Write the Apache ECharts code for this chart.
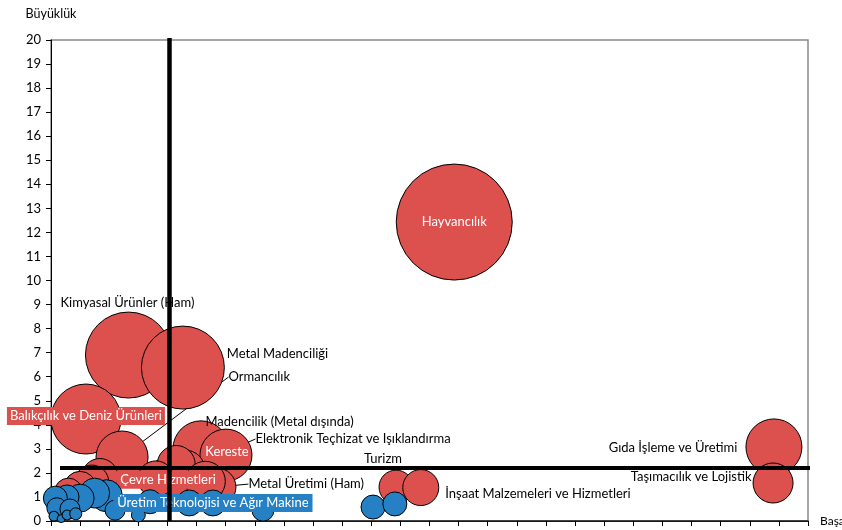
<!DOCTYPE html>
<html>
<head>
<meta charset="utf-8">
<script src="https://cdn.jsdelivr.net/npm/echarts@6/dist/echarts.min.js"></script>
<style>html,body{margin:0;padding:0;background:#fff;overflow:hidden}#c{width:842px;height:530px;overflow:hidden}</style>
</head>
<body>
<div id="c"></div>
<script>
// ---- data ----
const redNames = ['Hayvancılık','Kimyasal Ürünler (Ham)','Metal Madenciliği','Balıkçılık ve Deniz Ürünleri','Ormancılık','Madencilik (Metal dışında)','Kereste','Elektronik Teçhizat ve Işıklandırma','Çevre Hizmetleri','Metal Üretimi (Ham)','Turizm','İnşaat Malzemeleri ve Hizmetleri','Gıda İşleme ve Üretimi','Taşımacılık ve Lojistik','','','','','','',''];
const redX    = [13.85, 2.66, 4.53, 1.2, 2.44, 5.15, 6.01, 4.6, 4.02, 5.7, 11.85, 12.7, 24.83, 24.8, 4.3, 5.3, 1.68, 1.4, 1.0, 0.6, 3.6];
const redY    = [12.43, 6.9, 6.38, 4.24, 2.66, 3.0, 2.74, 2.12, 1.72, 1.41, 1.41, 1.39, 3.08, 1.58, 2.35, 1.65, 1.85, 1.62, 1.4, 1.2, 1.75];
const redSize = [841, 462, 430, 306, 169, 196, 169, 100, 121, 90, 72, 81, 196, 100, 90, 100, 81, 72, 64, 49, 81];

const blueNames = ['Üretim Teknolojisi ve Ağır Makine','','','','','','','','','','','','','','','','','',''];
const blueX    = [5.56, 1.9, 1.5, 1.0, 0.55, 0.15, 0.2, 0.65, 2.2, 3.0, 3.4, 4.75, 7.28, 11.06, 11.81, 0.1, 0.35, 0.55, 0.85];
const blueY    = [0.75, 1.05, 1.16, 0.95, 1.0, 0.95, 0.55, 0.5, 0.45, 0.25, 0.8, 0.75, 0.45, 0.58, 0.71, 0.2, 0.1, 0.25, 0.3];
const blueSize = [42, 64, 56, 49, 36, 36, 25, 25, 25, 12, 36, 42, 30, 36, 36, 6, 4, 6, 9];

const vLineX = 4.07;        // vertical reference line
const hLineY = 2.2;         // horizontal reference line
const hLineFrom = 0.31, hLineTo = 26.34;
const vLineTop = 20.08;

const xTitle = 'Başarı';
const yTitle = 'Büyüklük';

// ---- styles ----
const RED = '#DC504E', BLUE = '#2581C4';
const FONT = 'Lato';
const labelCfg = {
  'Hayvancılık': {position:'inside', color:'#fff'},
  'Kimyasal Ürünler (Ham)': {position:'inside'},
  'Metal Madenciliği': {position:'right', distance:2},
  'Balıkçılık ve Deniz Ürünleri': {position:'inside', color:'#fff', backgroundColor:RED, padding:[3,3,2,3]},
  'Ormancılık': {position:'right', distance:0},
  'Madencilik (Metal dışında)': {position:'right', distance:0},
  'Kereste': {position:'inside', color:'#fff'},
  'Elektronik Teçhizat ve Işıklandırma': {position:'right', distance:0},
  'Çevre Hizmetleri': {position:'inside', color:'#fff', backgroundColor:RED, padding:[3,4,2,4]},
  'Metal Üretimi (Ham)': {position:'right', distance:0},
  'Turizm': {position:'inside'},
  'İnşaat Malzemeleri ve Hizmetleri': {position:'right', distance:6},
  'Gıda İşleme ve Üretimi': {position:'left', distance:8},
  'Taşımacılık ve Lojistik': {position:'left', distance:1},
  'Üretim Teknolojisi ve Ağır Makine': {position:'inside', color:'#fff', backgroundColor:BLUE, padding:[3,4,2,4]}
};
// label shifts (px) from their default position
const labelShift = {
  'Kimyasal Ürünler (Ham)': [-1,-52],
  'Metal Madenciliği': [0,-14],
  'Balıkçılık ve Deniz Ürünleri': [0,-3],
  'Ormancılık': [80,-80],
  'Madencilik (Metal dışında)': [-24,-27],
  'Kereste': [1,-3],
  'Elektronik Teçhizat ve Işıklandırma': [50,-31],
  'Metal Üretimi (Ham)': [12,-3],
  'Turizm': [-13,-28],
  'İnşaat Malzemeleri ve Hizmetleri': [0,6],
  'Gıda İşleme ve Üretimi': [0,1],
  'Taşımacılık ve Lojistik': [0,-6]
};
const withLeader = ['Ormancılık','Elektronik Teçhizat ve Işıklandırma','Metal Üretimi (Ham)'];

function buildData(names, xs, ys, sizes){
  return names.map((n,i)=>{
    const item = {name:n, value:[xs[i], ys[i], sizes[i]]};
    if(n && labelCfg[n]){
      item.label = Object.assign({show:true, formatter:n, color:'#000', fontFamily:FONT, fontSize:13}, labelCfg[n]);
      if(withLeader.indexOf(n) >= 0) item.labelLine = {show:true, lineStyle:{color:'#000', width:1}};
    } else {
      item.label = {show:false};
    }
    return item;
  });
}
function layoutFor(names){
  return function(p){
    const m = labelShift[names[p.dataIndex]] || [0,0];
    return {dx:m[0], dy:m[1]};
  };
}
const sizeFn = v => Math.sqrt(v[2]) * 4;

const chart = echarts.init(document.getElementById('c'), null, {renderer:'canvas'});
chart.setOption({
  animation:false,
  backgroundColor:'#fff',
  textStyle:{fontFamily:FONT},
  grid:{left:51, right:34, top:40, bottom:9, show:true, borderColor:'#8a8a8a', borderWidth:1.5, containLabel:false, outerBoundsMode:'none'},
  xAxis:[{
    type:'value', min:0, max:26, interval:1,
    axisLine:{show:true, onZero:false, lineStyle:{color:'#000', width:1}},
    axisTick:{show:true, inside:false, length:5, lineStyle:{color:'#000'}},
    axisLabel:{show:false}, splitLine:{show:false},
    name:xTitle, nameLocation:'end', nameGap:12,
    nameTextStyle:{color:'#000', fontSize:12, fontFamily:FONT, align:'left', verticalAlign:'middle', padding:[4,0,0,0]}
  },{
    type:'value', min:0, max:26, position:'top',
    axisLine:{show:true, lineStyle:{color:'#222', width:1.5}},
    axisTick:{show:false}, axisLabel:{show:false}, splitLine:{show:false}
  }],
  yAxis:{
    type:'value', min:0, max:20, interval:1,
    axisLine:{show:true, onZero:false, lineStyle:{color:'#000', width:1}},
    axisTick:{show:true, inside:false, length:5, lineStyle:{color:'#000'}},
    axisLabel:{color:'#000', fontSize:13, fontFamily:FONT, margin:10},
    splitLine:{show:false},
    name:yTitle, nameLocation:'end', nameGap:20,
    nameTextStyle:{color:'#000', fontSize:12.5, fontFamily:FONT}
  },
  series:[
    {
      type:'scatter', name:'red', z:2,
      data:buildData(redNames, redX, redY, redSize),
      symbolSize:sizeFn,
      itemStyle:{color:RED, borderColor:'#000', borderWidth:1, opacity:1},
      labelLayout:layoutFor(redNames),
      emphasis:{disabled:true}
    },
    {
      type:'scatter', name:'blue', z:3,
      data:buildData(blueNames, blueX, blueY, blueSize),
      symbolSize:sizeFn,
      itemStyle:{color:BLUE, borderColor:'#000', borderWidth:1, opacity:1},
      labelLayout:layoutFor(blueNames),
      emphasis:{disabled:true}
    },
    {
      type:'line', z:10, clip:false, symbol:'none', silent:true,
      data:[[vLineX,0],[vLineX,vLineTop]],
      lineStyle:{color:'#000', width:4.5}
    },
    {
      type:'line', z:10, clip:false, symbol:'none', silent:true,
      data:[[hLineFrom,hLineY],[hLineTo,hLineY]],
      lineStyle:{color:'#000', width:4}
    }
  ]
});
</script>
</body>
</html>
